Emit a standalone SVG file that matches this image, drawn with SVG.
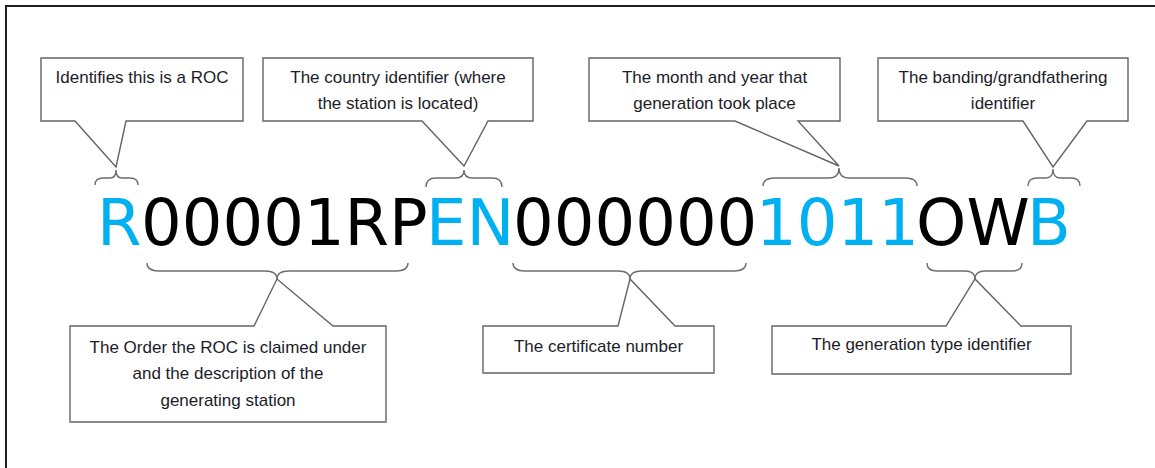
<svg xmlns="http://www.w3.org/2000/svg" width="1155" height="468" viewBox="0 0 1155 468">
<style>
.frame{fill:none;stroke:#1e1e1e;stroke-width:2}
.callout{fill:#ffffff;stroke:#646464;stroke-width:1.4;stroke-linejoin:miter}
.brace{fill:none;stroke:#6e6e6e;stroke-width:1.4}
.lbl{font-family:"Liberation Sans",Arial,sans-serif;font-size:17px;fill:#1c1c28;text-anchor:middle}
.code{font-family:"DejaVu Sans",sans-serif;font-size:64px}
.cy{fill:#00B0F0}
.bk{fill:#000000}
</style>
<rect width="1155" height="468" fill="#ffffff"/>
<path class="frame" d="M6,468 V6 H1155"/>

<g id="code">
<text class="code" y="245"><tspan class="cy" x="97">R</tspan><tspan class="bk" x="141">00001RP</tspan><tspan class="cy" x="426">EN</tspan><tspan class="bk" x="513">000000</tspan><tspan class="cy" x="756">1011</tspan><tspan class="bk" x="916">OW</tspan><tspan class="cy" x="1027">B</tspan></text>
</g>

<g id="connectors">
<path class="brace" d="M95,185 Q95,178 103,178 L110,178 Q116,178 116,170 Q116,178 122,178 L130,178 Q138,178 138,185"/>
<path class="brace" d="M426,187 Q426,178 436,178 L456,178 Q464,178 464,170 Q464,178 472,178 L492,178 Q502,178 502,187"/>
<path class="brace" d="M763,186 Q763,178 775,178 L829,178 Q839,178 839,168 Q839,178 849,178 L905,178 Q917,178 917,186"/>
<path class="brace" d="M1028,186 Q1028,178 1037,178 L1046,178 Q1053,178 1053,169 Q1053,178 1060,178 L1071,178 Q1080,178 1080,186"/>
<path class="brace" d="M147,263 Q147,271 159,271 L265,271 Q277,271 277,279 Q277,271 289,271 L396,271 Q408,271 408,263"/>
<path class="brace" d="M513,263 Q513,271 525,271 L618,271 Q630,271 630,279 Q630,271 642,271 L734,271 Q746,271 746,263"/>
<path class="brace" d="M927,263 Q927,271 937,271 L965,271 Q975,271 975,279 Q975,271 985,271 L1012,271 Q1022,271 1022,263"/>
</g>

<g id="callout-roc">
<path class="callout" d="M41,58 H243 V121 H126 L116,167 L75,121 H41 Z"/>
<text class="lbl" x="142" y="83">Identifies this is a ROC</text>
</g>

<g id="callout-country">
<path class="callout" d="M263,58 H533 V121 H488 L464,166 L422,121 H263 Z"/>
<text class="lbl" x="398" y="83">The country identifier (where</text>
<text class="lbl" x="398" y="109">the station is located)</text>
</g>

<g id="callout-month">
<path class="callout" d="M589,58 H840 V121 H798 L839,166 L735,121 H589 Z"/>
<text class="lbl" x="714.5" y="83">The month and year that</text>
<text class="lbl" x="714.5" y="109">generation took place</text>
</g>

<g id="callout-banding">
<path class="callout" d="M878,58 H1128 V121 H1087 L1053,167 L1023,121 H878 Z"/>
<text class="lbl" x="1003" y="83">The banding/grandfathering</text>
<text class="lbl" x="1003" y="109">identifier</text>
</g>

<g id="callout-order">
<path class="callout" d="M70,326 H254 L277,279 L333,326 H386 V422 H70 Z"/>
<text class="lbl" x="228" y="353">The Order the ROC is claimed under</text>
<text class="lbl" x="228" y="379">and the description of the</text>
<text class="lbl" x="228" y="406">generating station</text>
</g>

<g id="callout-certificate">
<path class="callout" d="M483,326 H618 L630,279 L675,326 H714 V373 H483 Z"/>
<text class="lbl" x="598.5" y="352">The certificate number</text>
</g>

<g id="callout-gentype">
<path class="callout" d="M772,326 H946 L975,279 L1021,326 H1071 V374 H772 Z"/>
<text class="lbl" x="921.5" y="350">The generation type identifier</text>
</g>
</svg>
